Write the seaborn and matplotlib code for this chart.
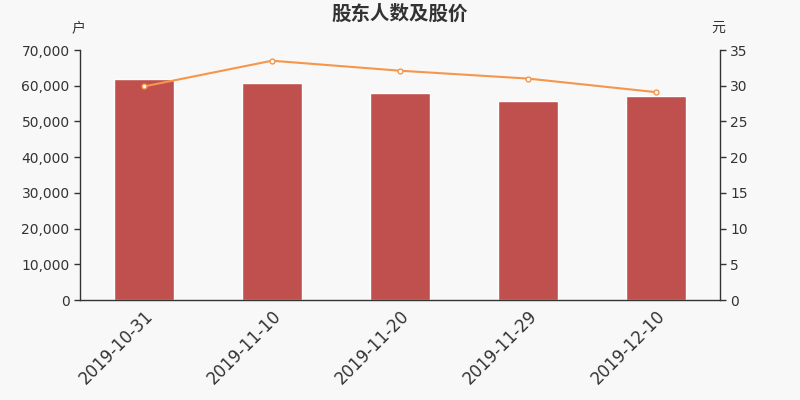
import matplotlib
matplotlib.use('Agg')
import matplotlib.pyplot as plt
import seaborn as sns
import pandas as pd
from matplotlib.ticker import FuncFormatter

dates = ['2019-10-31', '2019-11-10', '2019-11-20', '2019-11-29', '2019-12-10']
holders = [62000, 60700, 58100, 55700, 57000]
price = [29.9, 33.5, 32.1, 31.0, 29.1]

sns.set_theme(style='white')
plt.rcParams['font.family'] = ['DejaVu Sans', 'Noto Sans CJK SC']

bg = '#f8f8f8'
fig = plt.figure(figsize=(8, 4), dpi=100, facecolor=bg)
ax = fig.add_axes([0.1, 0.25, 0.8, 0.625])
ax.set_facecolor(bg)

df = pd.DataFrame({'date': dates, 'holders': holders, 'price': price})

sns.barplot(data=df, x='date', y='holders', color='#c0504d', saturation=1,
            width=0.47, ax=ax)
ax.set_ylim(0, 70000)
ax.set_yticks(range(0, 70001, 10000))
ax.yaxis.set_major_formatter(FuncFormatter(lambda v, p: f'{int(v):,}'))
ax.set_xlim(-0.5, len(dates) - 0.5)
ax.set_xlabel('')
ax.set_ylabel('')

ax2 = ax.twinx()
sns.lineplot(x=list(range(len(dates))), y=price, color='#f5964b', linewidth=1.5,
             marker='o', markersize=3.5, markerfacecolor='white',
             markeredgecolor='#f5964b', markeredgewidth=1, ax=ax2)
ax2.set_ylim(0, 35)
ax2.set_yticks(range(0, 36, 5))
ax2.set_xlim(-0.5, len(dates) - 0.5)

# ticks on category boundaries, labels at centres
ax.set_xticks(range(len(dates)))
ax.set_xticklabels(dates, rotation=45, ha='right', rotation_mode='anchor',
                   fontsize=12, color='#333333')
ax.set_xticks([i - 0.5 for i in range(len(dates) + 1)], minor=True)
ax.tick_params(axis='x', which='major', length=0, pad=5)
ax.tick_params(axis='x', which='minor', length=5, width=1, color='#333333', direction='out')

for a in (ax, ax2):
    for s in a.spines.values():
        s.set_visible(False)
    a.tick_params(axis='y', length=4, width=1, color='#333333', labelsize=10,
                  labelcolor='#333333', direction='out')
    a.grid(False)
ax.spines['left'].set_visible(True)
ax.spines['bottom'].set_visible(True)
ax2.spines['right'].set_visible(True)
for s in (ax.spines['left'], ax.spines['bottom'], ax2.spines['right']):
    s.set_color('#333333')
    s.set_linewidth(1)

fig.text(0.5, 0.965, '股东人数及股价', ha='center', va='center', fontsize=14,
         fontweight='bold', color='#333333')
fig.text(0.098, 0.93, '户', ha='center', va='center', fontsize=10, color='#333333')
fig.text(0.898, 0.93, '元', ha='center', va='center', fontsize=10, color='#333333')

fig.savefig('out.png', dpi=100, facecolor=bg)
